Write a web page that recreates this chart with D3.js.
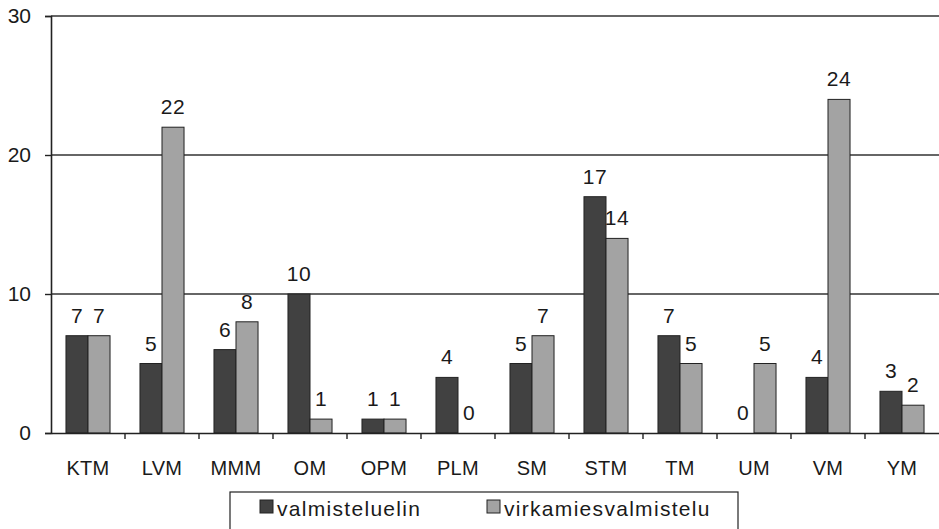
<!DOCTYPE html>
<html>
<head>
<meta charset="utf-8">
<script src="https://cdn.jsdelivr.net/npm/d3@7"></script>
<style>
  html, body { margin: 0; padding: 0; background: #fff; }
  svg { display: block; }
  text { font-family: Arial, "Liberation Sans", sans-serif; fill: #1a1a1a; }
</style>
</head>
<body>
<svg id="chart" width="939" height="529"></svg>
<script>
// Ministries and the number of items per preparation type
const categories = ["KTM", "LVM", "MMM", "OM", "OPM", "PLM", "SM", "STM", "TM", "UM", "VM", "YM"];
const seriesNames = ["valmisteluelin", "virkamiesvalmistelu"];
const valmisteluelin = [7, 5, 6, 10, 1, 4, 5, 17, 7, 0, 4, 3];
const virkamiesvalmistelu = [7, 22, 8, 1, 1, 0, 7, 14, 5, 5, 24, 2];
const yTicks = [0, 10, 20, 30];

const colors = { valmisteluelin: "#414141", virkamiesvalmistelu: "#a3a3a3" };
const seriesValues = { valmisteluelin, virkamiesvalmistelu };
const fontFamily = "Arial, 'Liberation Sans', sans-serif";

const svg = d3.select("#chart");
const plot = { left: 51, right: 939, top: 16, bottom: 433 };

const x = d3.scaleBand().domain(categories).range([plot.left, plot.right]).padding(0);
const xs = d3.scaleBand().domain(seriesNames).range([0, x.bandwidth()]).paddingInner(0).paddingOuter(0.68);
const y = d3.scaleLinear().domain([0, 30]).range([plot.bottom, plot.top]);

// horizontal gridlines
svg.append("g").selectAll("line")
  .data(yTicks.filter(d => d > 0))
  .join("line")
  .attr("x1", plot.left).attr("x2", plot.right)
  .attr("y1", d => y(d)).attr("y2", d => y(d))
  .attr("stroke", "#333").attr("stroke-width", 1.7);

// bars
const groups = svg.append("g").selectAll("g")
  .data(categories)
  .join("g")
  .attr("transform", d => `translate(${x(d)},0)`);

groups.selectAll("rect")
  .data((c, i) => seriesNames.map(s => ({ s, v: seriesValues[s][i] })))
  .join("rect")
  .filter(d => d.v > 0)
  .attr("x", d => xs(d.s))
  .attr("y", d => y(d.v))
  .attr("width", xs.bandwidth())
  .attr("height", d => y(0) - y(d.v))
  .attr("fill", d => colors[d.s])
  .attr("stroke", "#222")
  .attr("stroke-width", 1);

// value labels
groups.selectAll("text")
  .data((c, i) => seriesNames.map(s => ({ s, v: seriesValues[s][i] })))
  .join("text")
  .attr("x", d => xs(d.s) + xs.bandwidth() / 2)
  .attr("y", d => y(d.v) - 13)
  .attr("text-anchor", "middle")
  .attr("font-size", 21)
  .attr("letter-spacing", 0.5)
  .text(d => d.v);

// y axis
const yAxis = d3.axisLeft(y).tickValues(yTicks).tickSize(6).tickPadding(14);
const gy = svg.append("g").attr("transform", `translate(${plot.left},0)`).call(yAxis);
gy.select(".domain").attr("stroke", "#222").attr("stroke-width", 1.6);
gy.selectAll(".tick line").attr("stroke", "#222").attr("stroke-width", 1.4);
gy.selectAll(".tick text").attr("font-size", 21).attr("font-family", fontFamily).attr("fill", "#1a1a1a");

// x axis: category labels centred, tick marks at category boundaries
const xAxis = d3.axisBottom(x).tickSize(0).tickPadding(28);
const gx = svg.append("g").attr("transform", `translate(0,${plot.bottom})`).call(xAxis);
gx.select(".domain").attr("stroke", "#222").attr("stroke-width", 1.6);
gx.selectAll(".tick text").attr("font-size", 20).attr("font-family", fontFamily).attr("fill", "#1a1a1a")
  .attr("letter-spacing", 0.3);
svg.append("g").selectAll("line")
  .data(categories.slice(1))
  .join("line")
  .attr("x1", d => x(d)).attr("x2", d => x(d))
  .attr("y1", plot.bottom).attr("y2", plot.bottom + 6)
  .attr("stroke", "#222").attr("stroke-width", 1.4);

// legend
const legend = svg.append("g").attr("transform", "translate(230,492)");
legend.append("rect")
  .attr("x", 0).attr("y", 0).attr("width", 508).attr("height", 40)
  .attr("fill", "#fff").attr("stroke", "#222").attr("stroke-width", 1.2);
const legendX = [30, 257];
const items = legend.selectAll("g.item")
  .data(seriesNames)
  .join("g").attr("class", "item")
  .attr("transform", (d, i) => `translate(${legendX[i]},0)`);
items.append("rect")
  .attr("x", 0).attr("y", 8).attr("width", 13).attr("height", 13)
  .attr("fill", d => colors[d]).attr("stroke", "#222").attr("stroke-width", 1);
items.append("text")
  .attr("x", 17).attr("y", 24)
  .attr("font-size", 21)
  .attr("letter-spacing", 1.3)
  .text(d => d);
</script>
</body>
</html>
